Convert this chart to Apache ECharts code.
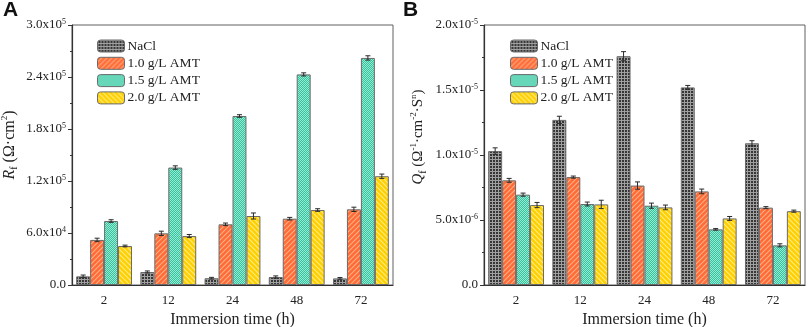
<!DOCTYPE html>
<html>
<head>
<meta charset="utf-8">
<script src="https://cdn.jsdelivr.net/npm/echarts@6/dist/echarts.min.js"></script>
<style>
  html, body { margin: 0; padding: 0; background: #fff; }
  #chart { width: 809px; height: 327px; }
</style>
</head>
<body>
<div id="chart"></div>
<script>
const times = ['2', '12', '24', '48', '72'];
const seriesNames = ['NaCl', '1.0 g/L AMT', '1.5 g/L AMT', '2.0 g/L AMT'];

// panel A: Rf (Ω·cm²)
const rfNaCl = [10000, 15000, 7800, 9200, 7600];
const rf10 = [52000, 59600, 70000, 76500, 87300];
const rf15 = [73800, 135500, 195000, 243000, 262000];
const rf20 = [45000, 56500, 79600, 86500, 125500];
const rfErrNaCl = [1500, 1200, 1000, 1300, 1000];
const rfErr10 = [2000, 2500, 1500, 1500, 2500];
const rfErr15 = [1500, 2000, 1500, 1800, 2500];
const rfErr20 = [1000, 1800, 3500, 1500, 2500];

// panel B: Qf (Ω⁻¹·cm⁻²·Sⁿ)
const qfNaCl = [1.03e-5, 1.27e-5, 1.76e-5, 1.52e-5, 1.09e-5];
const qf10 = [8.05e-6, 8.3e-6, 7.65e-6, 7.2e-6, 5.95e-6];
const qf15 = [6.95e-6, 6.23e-6, 6.1e-6, 4.28e-6, 3.05e-6];
const qf20 = [6.15e-6, 6.2e-6, 5.97e-6, 5.12e-6, 5.68e-6];
const qfErrNaCl = [2.5e-7, 2.8e-7, 3.5e-7, 1.5e-7, 2e-7];
const qfErr10 = [1.5e-7, 0.8e-7, 2.8e-7, 1.8e-7, 0.8e-7];
const qfErr15 = [1.2e-7, 1.5e-7, 2e-7, 0.6e-7, 1.2e-7];
const qfErr20 = [2e-7, 3.2e-7, 1.8e-7, 1.5e-7, 0.8e-7];

const SERIF = '"Liberation Serif", "Times New Roman", serif';

// hatch fills
function tile(size, draw) {
  const c = document.createElement('canvas');
  c.width = size; c.height = size;
  draw(c.getContext('2d'), size);
  return { image: c, repeat: 'repeat' };
}
const fillGrid = tile(3, (g, s) => {
  g.fillStyle = '#363636'; g.fillRect(0, 0, s, s);
  g.fillStyle = '#a0a0a0'; g.fillRect(0, 0, s, 1); g.fillRect(0, 0, 1, s);
});
function stripes(bg, fg, back) {
  return tile(5, (g, s) => {
    g.fillStyle = bg; g.fillRect(0, 0, s, s);
    g.strokeStyle = fg; g.lineWidth = 1.1;
    const segs = back
      ? [[-1, -1, s + 1, s + 1], [-1, s - 1, 1, s + 1], [s - 1, -1, s + 1, 1]]
      : [[-1, s + 1, s + 1, -1], [-1, 1, 1, -1], [s - 1, s + 1, s + 1, s - 1]];
    segs.forEach(([a, b, c, d]) => { g.beginPath(); g.moveTo(a, b); g.lineTo(c, d); g.stroke(); });
  });
}
const fillOrange = stripes('#ff6a35', '#ffb08a', false);
const fillYellow = stripes('#ffd000', '#ffec8a', true);
const fillGreen = tile(2, (g, s) => {
  g.fillStyle = '#2ec6a0'; g.fillRect(0, 0, s, s);
  g.fillStyle = '#9ee8d2'; g.fillRect(0, 0, 1, 1); g.fillRect(1, 1, 1, 1);
});
const fills = [fillGrid, fillOrange, fillGreen, fillYellow];

const sci = v => {
  if (Math.abs(v) < 1e-20) return '{t|0.0}';
  const e = Math.floor(Math.log10(v) + 1e-9);
  const m = (v / Math.pow(10, e)).toFixed(1);
  return '{t|' + m + 'x10}{sup|' + e + '}';
};
const tickRich = {
  t: { fontFamily: SERIF, fontSize: 13, color: '#222' },
  sup: { fontFamily: SERIF, fontSize: 8, color: '#222', verticalAlign: 'top', padding: [0, 0, 7, 0] },
};
function nameRich(fs, shift) {
  return {
    gap: { width: shift },
    i: { fontFamily: SERIF, fontStyle: 'italic', fontSize: fs, color: '#222' },
    n: { fontFamily: SERIF, fontSize: fs, color: '#222' },
    sub: { fontFamily: SERIF, fontSize: 10, color: '#222', padding: [9, 0, 0, 0] },
    sup: { fontFamily: SERIF, fontSize: 9, color: '#222', padding: [0, 0, 9, 0] },
  };
}

const gridLeft = [72, 484];
const panels = [
  { vals: [rfNaCl, rf10, rf15, rf20], errs: [rfErrNaCl, rfErr10, rfErr15, rfErr20], max: 3e5, interval: 6e4,
    name: '{gap|}{i|R}{sub|f}{n| (Ω·cm}{sup|2}{n|)}', gap: 53, fs: 16, shift: 20 },
  { vals: [qfNaCl, qf10, qf15, qf20], errs: [qfErrNaCl, qfErr10, qfErr15, qfErr20], max: 2e-5, interval: 5e-6,
    name: '{gap|}{i|Q}{sub|f}{n| (Ω}{sup|-1}{n|·cm}{sup|-2}{n|·S}{sup|n}{n|)}', gap: 56, fs: 15, shift: 36 },
];

const grid = [], xAxis = [], yAxis = [], series = [], legend = [];
const CAT_GAP = 0.13;

panels.forEach((p, k) => {
  grid.push({
    left: gridLeft[k], top: 25, width: 321, height: 260, outerBoundsMode: 'none',
    show: true, borderColor: '#606060', borderWidth: 1,
  });
  // labelled axis, ticks on category borders
  xAxis.push({
    type: 'category', gridIndex: k, data: times,
    axisLine: { lineStyle: { color: '#333', width: 1.2 } },
    axisTick: { length: 4, lineStyle: { color: '#333' } },
    axisLabel: { fontFamily: SERIF, fontSize: 13, color: '#222', margin: 9 },
    name: 'Immersion time (h)', nameLocation: 'middle', nameGap: 24,
    nameTextStyle: { fontFamily: SERIF, fontSize: 16, color: '#222' },
  });
  // ticks on category centres
  xAxis.push({
    type: 'category', gridIndex: k, data: times, position: 'bottom',
    axisLine: { show: false }, axisLabel: { show: false },
    axisTick: { alignWithLabel: true, length: 4, lineStyle: { color: '#333' } },
  });
  yAxis.push({
    type: 'value', gridIndex: k, min: 0, max: p.max, interval: p.interval,
    axisLine: { show: true, lineStyle: { color: '#333', width: 1.2 } },
    axisTick: { show: true, length: 4, lineStyle: { color: '#333' } },
    minorTick: { show: true, splitNumber: 2, length: 2, lineStyle: { color: '#333' } },
    splitLine: { show: false },
    axisLabel: { formatter: sci, rich: tickRich, margin: 6 },
    name: p.name, nameLocation: 'middle', nameGap: p.gap, nameRotate: 90,
    nameTextStyle: { rich: nameRich(p.fs, p.shift) },
  });
  seriesNames.forEach((nm, s) => {
    series.push({
      name: nm, type: 'bar', xAxisIndex: 2 * k, yAxisIndex: k,
      data: p.vals[s], barGap: '0%', barCategoryGap: (CAT_GAP * 100) + '%',
      itemStyle: { color: fills[s], borderColor: '#6a6a6a', borderWidth: 1 },
      z: 2,
    });
  });
  // error bars
  const errData = [];
  p.vals.forEach((arr, s) => arr.forEach((v, i) => errData.push([i, v, p.errs[s][i], s])));
  series.push({
    type: 'custom', xAxisIndex: 2 * k, yAxisIndex: k, data: errData, z: 5, silent: true,
    renderItem: (params, api) => {
      const i = api.value(0), v = api.value(1), e = api.value(2), s = api.value(3);
      const band = api.size([1, 0])[0];
      const w = band * (1 - CAT_GAP) / 4;
      const cx = api.coord([i, v])[0] + (s - 1.5) * w;
      const top = api.coord([i, v + e])[1], bot = api.coord([i, v - e])[1];
      const st = { stroke: '#2a2a2a', lineWidth: 1 };
      return {
        type: 'group', children: [
          { type: 'line', shape: { x1: cx, y1: top, x2: cx, y2: bot }, style: st },
          { type: 'line', shape: { x1: cx - 2.5, y1: top, x2: cx + 2.5, y2: top }, style: st },
          { type: 'line', shape: { x1: cx - 2.5, y1: bot, x2: cx + 2.5, y2: bot }, style: st },
        ],
      };
    },
  });
  legend.push({
    data: seriesNames, orient: 'vertical', left: k === 0 ? 97 : 510, top: 39, padding: 0,
    itemWidth: 27, itemHeight: 12, itemGap: 3.3, selectedMode: false,
    textStyle: { fontFamily: SERIF, fontSize: 13.5, lineHeight: 12, color: '#222', padding: [0, 0, 0, -2] },
    itemStyle: { borderColor: '#6a6a6a', borderWidth: 1 },
  });
});

const chart = echarts.init(document.getElementById('chart'), null, { renderer: 'canvas' });
chart.setOption({
  animation: false,
  grid, xAxis, yAxis, series, legend,
  graphic: [
    { type: 'text', left: 3, top: 0, style: { text: 'A', font: 'bold 21px "Liberation Sans", Arial, sans-serif', fill: '#111' } },
    { type: 'text', left: 403, top: 0, style: { text: 'B', font: 'bold 21px "Liberation Sans", Arial, sans-serif', fill: '#111' } },
  ],
});
window.addEventListener('resize', () => chart.resize());
</script>
</body>
</html>
